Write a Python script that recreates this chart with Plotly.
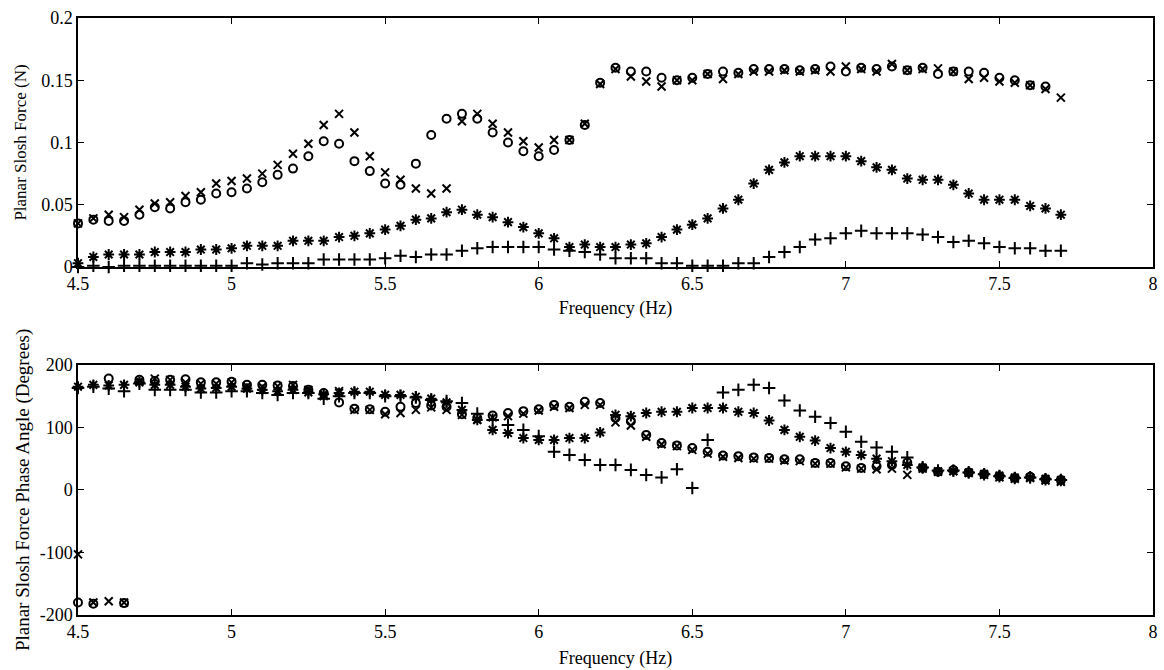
import plotly.graph_objects as go
from plotly.subplots import make_subplots

# Excitation frequencies (Hz)
freq = [4.5, 4.55, 4.6, 4.65, 4.7, 4.75, 4.8, 4.85, 4.9, 4.95,
        5.0, 5.05, 5.1, 5.15, 5.2, 5.25, 5.3, 5.35, 5.4, 5.45,
        5.5, 5.55, 5.6, 5.65, 5.7, 5.75, 5.8, 5.85, 5.9, 5.95,
        6.0, 6.05, 6.1, 6.15, 6.2, 6.25, 6.3, 6.35, 6.4, 6.45,
        6.5, 6.55, 6.6, 6.65, 6.7, 6.75, 6.8, 6.85, 6.9, 6.95,
        7.0, 7.05, 7.1, 7.15, 7.2, 7.25, 7.3, 7.35, 7.4, 7.45,
        7.5, 7.55, 7.6, 7.65, 7.7]

# Planar slosh force magnitude (N)
force_o = [0.035, 0.038, 0.037, 0.037, 0.042, 0.048, 0.047, 0.052, 0.054, 0.059,
           0.060, 0.063, 0.068, 0.074, 0.079, 0.089, 0.101, 0.099, 0.085, 0.077,
           0.067, 0.066, 0.083, 0.106, 0.119, 0.123, 0.119, 0.108, 0.100, 0.093,
           0.089, 0.094, 0.102, 0.114, 0.148, 0.160, 0.157, 0.157, 0.152, 0.150,
           0.152, 0.155, 0.157, 0.156, 0.159, 0.159, 0.159, 0.158, 0.159, 0.161,
           0.157, 0.160, 0.159, 0.161, 0.158, 0.160, 0.155, 0.157, 0.157, 0.156,
           0.152, 0.150, 0.146, 0.145, None]
force_x = [0.035, 0.039, 0.042, 0.040, 0.046, 0.051, 0.052, 0.057, 0.060, 0.067,
           0.069, 0.071, 0.075, 0.082, 0.091, 0.099, 0.114, 0.123, 0.108, 0.089,
           0.076, 0.070, 0.063, 0.059, 0.063, 0.117, 0.123, 0.115, 0.108, 0.101,
           0.096, 0.102, 0.102, 0.115, 0.147, 0.159, 0.153, 0.149, 0.145, 0.150,
           0.150, 0.155, 0.151, 0.155, 0.157, 0.157, 0.158, 0.157, 0.158, 0.157,
           0.161, 0.159, 0.157, 0.163, 0.158, 0.159, 0.1595, 0.157, 0.151, 0.152,
           0.149, 0.148, 0.146, 0.143, 0.136]
force_star = [0.003, 0.008, 0.010, 0.010, 0.010, 0.012, 0.012, 0.012, 0.014, 0.014,
              0.015, 0.017, 0.017, 0.017, 0.021, 0.021, 0.021, 0.024, 0.025, 0.027,
              0.030, 0.033, 0.038, 0.039, 0.044, 0.046, 0.042, 0.040, 0.036, 0.032,
              0.027, 0.023, 0.016, 0.018, 0.016, 0.016, 0.018, 0.019, 0.024, 0.030,
              0.034, 0.039, 0.047, 0.054, 0.067, 0.078, 0.084, 0.089, 0.089, 0.089,
              0.089, 0.085, 0.080, 0.078, 0.071, 0.070, 0.070, 0.066, 0.059, 0.054,
              0.054, 0.054, 0.049, 0.047, 0.042]
force_plus = [0.0, 0.001, 0.0, 0.001, 0.001, 0.001, 0.001, 0.001, 0.001, 0.001,
              0.001, 0.003, 0.002, 0.003, 0.003, 0.003, 0.006, 0.006, 0.006, 0.006,
              0.007, 0.009, 0.008, 0.010, 0.010, 0.013, 0.015, 0.016, 0.016, 0.016,
              0.016, 0.014, 0.013, 0.012, 0.010, 0.007, 0.007, 0.007, 0.003, 0.003,
              0.001, 0.001, 0.001, 0.003, 0.003, 0.008, 0.012, 0.016, 0.022, 0.023,
              0.027, 0.029, 0.027, 0.027, 0.027, 0.026, 0.024, 0.020, 0.021, 0.019,
              0.016, 0.015, 0.015, 0.013, 0.013]

# Planar slosh force phase angle (degrees)
phase_o = [-180, -182, 178, -181, 176, 174, 176, 177, 172, 172,
           173, 168, 168, 167, 166, 160, 155, 140, 130, 129,
           125, 133, 139, 135, 133, 121, 115, 119, 123, 126,
           129, 136, 133, 141, 139, 115, 110, 88, 75, 71,
           67, 61, 55, 54, 52, 51, 49, 49, 43, 43,
           38, 35, 38, 40, 44, 35, 29, 32, 28, 25,
           22, 19, 21, 17, 16]
phase_x = [-103, -180, -178, -180, 174, 178, 176, 172, 170, 170,
           172, 166, 165, 166, 168, 160, 150, 158, 128, 128,
           121, 123, 128, 132, 128, 120, 112, 116, 118, 122,
           127, 133, 131, 136, 136, 108, 103, 85, 73, 70,
           64, 58, 53, 51, 50, 50, 47, 46, 42, 42,
           36, 34, 33, 34, 24, 34, 29, 30, 27, 24,
           20, 18, 19, 15, 13]
phase_star = [165, 168, 167, 168, 172, 168, 168, 165, 162, 163,
              165, 162, 160, 158, 160, 156, 153, 155, 157, 157,
              152, 152, 149, 146, 140, 128, 112, 96, 91, 83,
              80, 80, 83, 83, 92, 120, 118, 123, 125, 125,
              131, 131, 131, 125, 123, 111, 96, 85, 79, 67,
              61, 56, 50, 46, 40, 36, 30, 30, 28, 26,
              23, 20, 20, 18, 16]
phase_plus = [163, 165, 162, 158, 170, 160, 160, 160, 156, 156,
              158, 158, 155, 152, 155, 155, 146, 150, 155, 155,
              150, 150, 148, 144, 142, 139, 122, 112, 104, 96,
              86, 61, 56, 48, 40, 40, 32, 24, 20, 33,
              3, 80, 156, 160, 168, 163, 143, 127, 117, 107,
              93, 77, 68, 61, 52, 36, 31, 31, 28, 25,
              22, 19, 20, 17, 16]

x_ticks = [4.5, 5, 5.5, 6, 6.5, 7, 7.5, 8]
x_tick_text = ["4.5", "5", "5.5", "6", "6.5", "7", "7.5", "8"]
force_ticks = [0, 0.05, 0.1, 0.15, 0.2]
force_tick_text = ["0", "0.05", "0.1", "0.15", "0.2"]
phase_ticks = [-200, -100, 0, 100, 200]
phase_tick_text = ["-200", "-100", "0", "100", "200"]

FONT = "Liberation Serif"
INK = "black"

fig = make_subplots(rows=2, cols=1, vertical_spacing=0.0)

symbols = [("circle-open", 8), ("x-thin-open", 8), ("asterisk-open", 9), ("cross-thin-open", 9)]
force_sets = [force_o, force_x, force_star, force_plus]
phase_sets = [phase_o, phase_x, phase_star, phase_plus]

for (sym, size), ys in zip(symbols, force_sets):
    fig.add_trace(go.Scatter(x=freq, y=ys, mode="markers", cliponaxis=False,
                             marker=dict(symbol=sym, size=size, color=INK,
                                         line=dict(width=2, color=INK)),
                             showlegend=False), row=1, col=1)
for (sym, size), ys in zip(symbols, phase_sets):
    fig.add_trace(go.Scatter(x=freq, y=ys, mode="markers", cliponaxis=False,
                             marker=dict(symbol=sym, size=size, color=INK,
                                         line=dict(width=2, color=INK)),
                             showlegend=False), row=2, col=1)

axis_common = dict(showline=True, linecolor=INK, linewidth=1.5, mirror="ticks",
                   ticks="inside", ticklen=6, tickwidth=1.2, tickcolor=INK,
                   showgrid=False, zeroline=False, automargin=False,
                   tickfont=dict(family=FONT, size=18, color=INK))

fig.update_xaxes(range=[4.5, 8], tickvals=x_ticks, ticktext=x_tick_text, **axis_common)
fig.update_xaxes(row=1, col=1,
                 title=dict(text="Frequency (Hz)", font=dict(family=FONT, size=18, color=INK),
                            standoff=8))
fig.update_xaxes(row=2, col=1,
                 title=dict(text="Frequency (Hz)", font=dict(family=FONT, size=18, color=INK),
                            standoff=10))
fig.update_yaxes(row=1, col=1, range=[0, 0.2], tickvals=force_ticks, ticktext=force_tick_text,
                 title=dict(text="Planar Slosh Force (N)",
                            font=dict(family=FONT, size=17, color=INK), standoff=10),
                 **axis_common)
fig.update_yaxes(row=2, col=1, range=[-200, 200], tickvals=phase_ticks, ticktext=phase_tick_text,
                 title=dict(text="Planar Slosh Force Phase Angle (Degrees)",
                            font=dict(family=FONT, size=19, color=INK), standoff=5),
                 **axis_common)

fig.update_layout(
    width=1164, height=670,
    margin=dict(l=78, r=11, t=18, b=55),
    paper_bgcolor="white", plot_bgcolor="white",
    font=dict(family=FONT, color=INK),
    xaxis=dict(domain=[0, 1]),
    yaxis=dict(domain=[0.583, 1.0]),
    yaxis2=dict(domain=[0.0, 0.419]),
)

fig.write_html("out.html")
